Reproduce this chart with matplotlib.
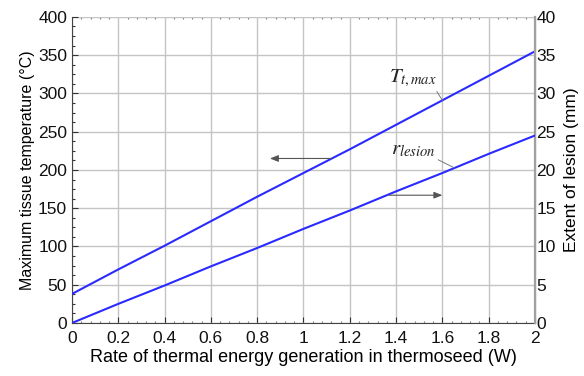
import matplotlib
matplotlib.use("Agg")
import matplotlib.pyplot as plt
from matplotlib.ticker import MultipleLocator

# values
power = [0.0, 0.2, 0.4, 0.6, 0.8, 1.0, 1.2, 1.4, 1.6, 1.8, 2.0]
t_max = [38, 70, 101, 133, 165, 196, 227, 259, 291, 323, 355]
r_lesion = [0.0, 2.5, 4.9, 7.4, 9.8, 12.3, 14.7, 17.2, 19.6, 22.1, 24.5]

x_ticks = [0, 0.2, 0.4, 0.6, 0.8, 1, 1.2, 1.4, 1.6, 1.8, 2]
x_tick_labels = ["0", "0.2", "0.4", "0.6", "0.8", "1", "1.2", "1.4", "1.6", "1.8", "2"]

plt.rcParams["font.family"] = ["Liberation Sans", "DejaVu Sans"]
plt.rcParams["mathtext.fontset"] = "stix"

fig = plt.figure(figsize=(5.84, 3.76), dpi=100)
ax = fig.add_axes([0.1233, 0.141, 0.7927, 0.814])
ax2 = ax.twinx()

line_color = "#2a2aff"
ax.plot(power, t_max, color=line_color, lw=1.5, zorder=3)
ax2.plot(power, r_lesion, color=line_color, lw=1.5, zorder=3)

ax.set_xlim(0, 2)
ax.set_ylim(0, 400)
ax2.set_ylim(0, 40)

ax.set_xticks(x_ticks)
ax.set_xticklabels(x_tick_labels)
ax.xaxis.set_minor_locator(MultipleLocator(0.04))
ax.set_yticks(range(0, 401, 50))
ax.yaxis.set_minor_locator(MultipleLocator(12.5))
ax2.set_yticks(range(0, 41, 5))

ax.grid(True, which="major", color="#c4c4c4", lw=1.0)
ax.set_axisbelow(True)

ax.tick_params(axis="both", which="major", direction="in", length=4,
               width=0.8, labelsize=12.5, colors="#333333", labelcolor="#111111")
ax.tick_params(axis="both", which="minor", direction="in", length=2.5,
               width=0.8, colors="#333333")
ax.tick_params(axis="x", which="major", top=False, pad=6)
ax.tick_params(axis="x", which="minor", top=True, length=1.5, color="#777777")
ax2.tick_params(axis="y", which="both", length=0, labelsize=12.5,
                labelcolor="#111111", pad=1)

ax.spines["top"].set_visible(False)
ax2.spines["top"].set_visible(False)
ax.spines["left"].set_color("#444444")
ax.spines["bottom"].set_color("#444444")
ax2.spines["right"].set_color("#a0a0a0")
ax2.spines["right"].set_linewidth(1.6)
ax2.spines["left"].set_visible(False)
ax2.spines["bottom"].set_visible(False)

ax.set_xlabel("Rate of thermal energy generation in thermoseed (W)", fontsize=13,
              labelpad=2)
ax.set_ylabel("Maximum tissue temperature (\u00b0C)", fontsize=11.5, labelpad=2)
ax2.set_ylabel("Extent of lesion (mm)", fontsize=12.5, labelpad=6)

# curve labels with leader lines
ax.annotate(r"$T_{t,max}$", xy=(1.6, 291), xytext=(1.575, 315),
            ha="right", va="baseline", fontsize=15, color="#222222",
            arrowprops=dict(arrowstyle="-", color="#777777", lw=0.7,
                            shrinkA=0, shrinkB=0, relpos=(0.97, 0.0)))
ax2.annotate(r"$r_{lesion}$", xy=(1.65, 20.3), xytext=(1.57, 22.0),
             ha="right", va="baseline", fontsize=15, color="#222222",
             arrowprops=dict(arrowstyle="-", color="#777777", lw=0.7,
                             shrinkA=0, shrinkB=0, relpos=(1.0, 0.05)))

# direction arrows pointing to each curve's axis
ax.annotate("", xy=(0.855, 215), xytext=(1.12, 215),
            arrowprops=dict(arrowstyle="-|>,head_length=0.5,head_width=0.2",
                            color="#555555", lw=0.8, shrinkA=0, shrinkB=0))
ax2.annotate("", xy=(1.6, 16.7), xytext=(1.37, 16.7),
             arrowprops=dict(arrowstyle="-|>,head_length=0.5,head_width=0.2",
                             color="#555555", lw=0.8, shrinkA=0, shrinkB=0))

fig.savefig("out.png", dpi=100, facecolor="white")
